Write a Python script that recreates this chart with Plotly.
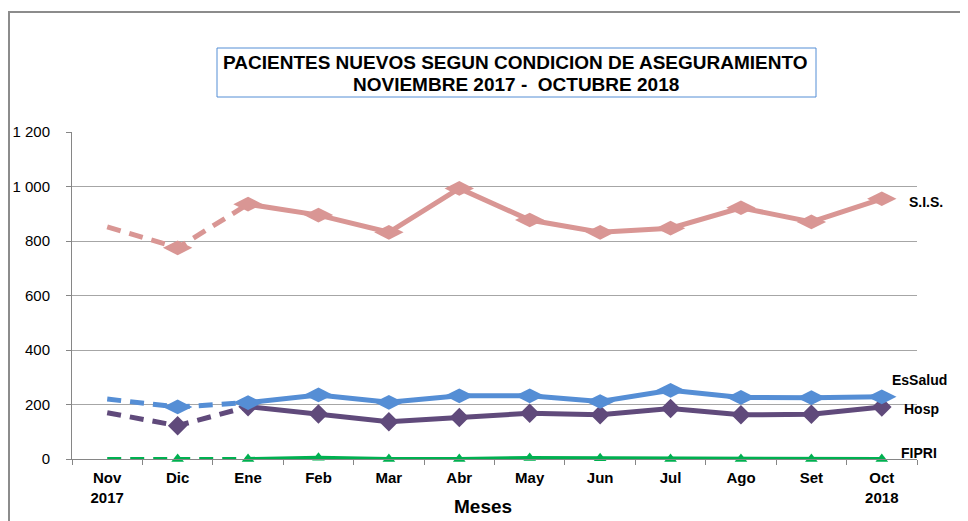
import plotly.graph_objects as go

months = ["Nov<br>2017", "Dic", "Ene", "Feb", "Mar", "Abr", "May", "Jun", "Jul", "Ago", "Set", "Oct<br>2018"]
sis = [852, 775, 935, 895, 832, 993, 877, 832, 847, 922, 870, 955]
essalud = [220, 191, 207, 235, 208, 232, 232, 211, 252, 226, 225, 228]
hosp = [170, 122, 192, 165, 137, 152, 168, 162, 185, 162, 164, 191]
fipri = [0, 0, 0, 5, 0, 0, 4, 3, 0, 0, 0, 0]

y_ticks = [0, 200, 400, 600, 800, 1000, 1200]
y_labels = ["0", "200", "400", "600", "800", "1 000", "1 200"]

series = [
    ("S.I.S.", sis, "#D99694", "diamond-wide", 21, 5),
    ("Hosp", hosp, "#604A7B", "diamond", 15, 5),
    ("EsSalud", essalud, "#558ED5", "diamond-wide", 21, 5),
    ("FIPRI", fipri, "#00B050", "triangle-up", 11, 4),
]

FONT = "Liberation Sans, Arial, sans-serif"
fig = go.Figure()

for name, vals, color, sym, msize, lw in series:
    # dashed start (Nov-Ene)
    fig.add_trace(go.Scatter(
        x=months[:3], y=vals[:3], mode="lines",
        line=dict(color=color, width=lw, dash="14px,9px"),
        showlegend=False, hoverinfo="skip", cliponaxis=False))
    # marker at Dic
    fig.add_trace(go.Scatter(
        x=months[1:2], y=vals[1:2], mode="markers",
        marker=dict(symbol=sym, size=msize, color=color, line=dict(width=0)),
        showlegend=False, cliponaxis=False))
    # solid rest (Ene-Oct)
    fig.add_trace(go.Scatter(
        x=months[2:], y=vals[2:], mode="lines+markers",
        line=dict(color=color, width=lw),
        marker=dict(symbol=sym, size=msize, color=color, line=dict(width=0)),
        name=name, showlegend=False, cliponaxis=False))

# page body has an 8px margin: work in reference pixels, shift by offset
OX, OY = 8, 8
W, H = 968 - OX, 521 - OY
PL, PR, PT, PB = 72 - OX, 917 - OX, 132 - OY, 459 - OY


def px(x):
    return (x - OX - PL) / (PR - PL)


def py(y):
    return (PB - (y - OY)) / (PB - PT)


fig.update_layout(
    width=W, height=H,
    margin=dict(l=PL, r=W - PR, t=PT, b=H - PB),
    paper_bgcolor="white", plot_bgcolor="white",
    font=dict(family=FONT, color="black"),
    xaxis=dict(
        type="category", range=[-0.5, 11.5], automargin=False,
        showline=True, linecolor="#868686", linewidth=1,
        ticks="outside", tickson="boundaries", ticklen=5, tickcolor="#868686",
        showgrid=False, zeroline=False,
        tickfont=dict(family=FONT, size=15, color="black", weight="bold"),
        ticklabelstandoff=5,
    ),
    yaxis=dict(
        range=[0, 1200], tickvals=y_ticks, ticktext=y_labels, automargin=False,
        showline=True, linecolor="#868686", linewidth=1,
        ticks="outside", ticklen=5, tickcolor="#868686",
        showgrid=True, gridcolor="#A6A6A6", gridwidth=1, zeroline=False,
        tickfont=dict(family=FONT, size=15, color="black"),
        ticklabelstandoff=13,
    ),
    shapes=[
        dict(type="rect", xref="paper", yref="paper",
             x0=px(9), x1=px(1300), y0=py(800), y1=py(12),
             line=dict(color="#8C8C8C", width=2), fillcolor="rgba(0,0,0,0)", layer="below"),
        dict(type="rect", xref="paper", yref="paper",
             x0=px(217), x1=px(816), y0=py(97), y1=py(48),
             line=dict(color="#558ED5", width=1), fillcolor="white"),
    ],
    annotations=[
        dict(text="<b>PACIENTES NUEVOS SEGUN CONDICION DE ASEGURAMIENTO</b>",
             xref="paper", yref="paper", x=px(516), y=py(63), showarrow=False,
             xanchor="center", yanchor="middle", font=dict(family=FONT, size=19)),
        dict(text="<b>NOVIEMBRE 2017 -  OCTUBRE 2018</b>",
             xref="paper", yref="paper", x=px(516), y=py(84), showarrow=False,
             xanchor="center", yanchor="middle", font=dict(family=FONT, size=19)),
        dict(text="<b>Meses</b>", xref="paper", yref="paper", x=px(483), y=py(506),
             showarrow=False, xanchor="center", yanchor="middle",
             font=dict(family=FONT, size=19)),
        dict(text="<b>S.I.S.</b>", xref="paper", yref="paper", x=px(907), y=py(202),
             showarrow=False, xanchor="left", yanchor="middle", font=dict(family=FONT, size=14)),
        dict(text="<b>EsSalud</b>", xref="paper", yref="paper", x=px(890), y=py(380),
             showarrow=False, xanchor="left", yanchor="middle", font=dict(family=FONT, size=14)),
        dict(text="<b>Hosp</b>", xref="paper", yref="paper", x=px(902), y=py(409),
             showarrow=False, xanchor="left", yanchor="middle", font=dict(family=FONT, size=14)),
        dict(text="<b>FIPRI</b>", xref="paper", yref="paper", x=px(899), y=py(453),
             showarrow=False, xanchor="left", yanchor="middle", font=dict(family=FONT, size=14)),
    ],
)

fig.write_html("out.html")
